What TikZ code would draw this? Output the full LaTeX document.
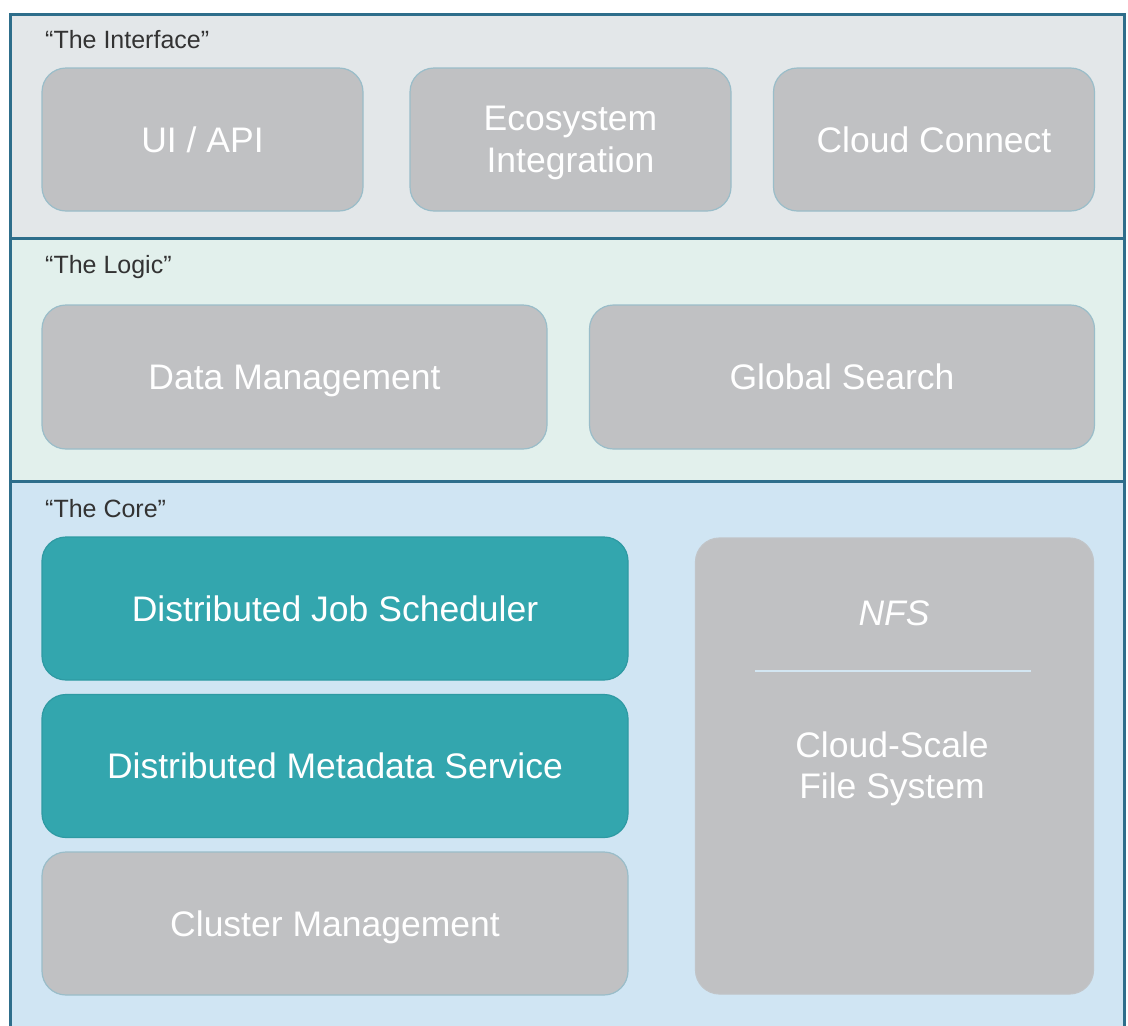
\documentclass[tikz,border=0pt]{standalone}
\usepackage{fontspec}
\setmainfont{Liberation Sans}
\definecolor{framecol}{HTML}{2E6E8B}
\definecolor{bandA}{HTML}{E3E7E9}
\definecolor{bandB}{HTML}{E2F0EC}
\definecolor{bandC}{HTML}{D0E5F3}
\definecolor{boxgray}{HTML}{C0C1C3}
\definecolor{boxline}{HTML}{9ABDC9}
\definecolor{tealbox}{HTML}{33A6AE}
\definecolor{tealline}{HTML}{2E9AA3}
\definecolor{labeltext}{HTML}{333333}
\definecolor{nfsrule}{HTML}{D3E6F2}
\tikzset{
  bandbox/.style={draw=framecol, line width=2.6pt, inner sep=0, anchor=north west},
  gbox/.style={draw=boxline, line width=1.2pt, fill=boxgray, rounded corners=24pt,
    text=white, font=\fontsize{35.5}{42}\selectfont, align=center, inner sep=0},
  oneline/.style={text height=25.5pt, text depth=0pt},
  tbox/.style={gbox, fill=tealbox, draw=tealline},
  nfsbox/.style={gbox, draw=boxgray!92!bandC},
  lbl/.style={anchor=base west, inner sep=0, text=labeltext, font=\fontsize{25}{29}\selectfont},
  nfsline/.style={draw=nfsrule, line width=1.5pt}
}
\begin{document}
\begin{tikzpicture}[x=1pt, y=-1pt]
\useasboundingbox (0,0) rectangle (1128,1026);
\clip (0,0) rectangle (1128,1026);
\fill[white] (0,0) rectangle (1128,1026);
% bands
\node[bandbox, fill=bandA, minimum width=1114pt, minimum height=224pt] (iface) at (9,13) {};
\node[bandbox, fill=bandB, minimum width=1114pt, minimum height=243pt] (logic) at (9,237) {};
\node[bandbox, fill=bandC, minimum width=1114pt, minimum height=570pt] (core) at (9,480) {};
% labels
\node[lbl] (lA) at (45,48) {“The Interface”};
\node[lbl] (lB) at (45,273) {“The Logic”};
\node[lbl] (lC) at (45,517) {“The Core”};
% interface boxes
\node[gbox, oneline, minimum width=321pt, minimum height=143pt] (ui) at (202.5,139.5) {UI / API};
\node[gbox, minimum width=321pt, minimum height=143pt] (eco) at (570.5,139.5) {\rule{0pt}{31.5pt}Ecosystem\\[0pt]Integration};
\node[gbox, oneline, minimum width=321pt, minimum height=143pt] (cloud) at (934,139.5) {Cloud Connect};
% logic boxes
\node[gbox, oneline, minimum width=505pt, minimum height=144pt] (dm) at (294.5,377) {Data Management};
\node[gbox, oneline, minimum width=505pt, minimum height=144pt] (gs) at (842,377) {Global Search};
% core boxes
\node[tbox, oneline, minimum width=586pt, minimum height=143pt] (djs) at (335,608.5) {Distributed Job Scheduler};
\node[tbox, oneline, minimum width=586pt, minimum height=143pt] (dms) at (335,766) {Distributed Metadata Service};
\node[gbox, oneline, minimum width=586pt, minimum height=143pt] (cm) at (335,923.5) {Cluster Management};
\node[nfsbox, minimum width=398pt, minimum height=456pt] (nfs) at (894.5,766) {};
\node[text=white, font=\fontsize{35.5}{42}\selectfont\itshape, inner sep=0, text height=25.5pt, text depth=0pt] (nfst) at (894,613) {NFS};
\coordinate (ruleL) at (755,671);
\coordinate (ruleR) at (1031,671);
\draw[nfsline] (ruleL) -- (ruleR);
\node[text=white, font=\fontsize{35.5}{42}\selectfont, align=center, inner sep=0] (cs) at (892,769) {Cloud-Scale\\[-1pt]File System};
\end{tikzpicture}
\end{document}
